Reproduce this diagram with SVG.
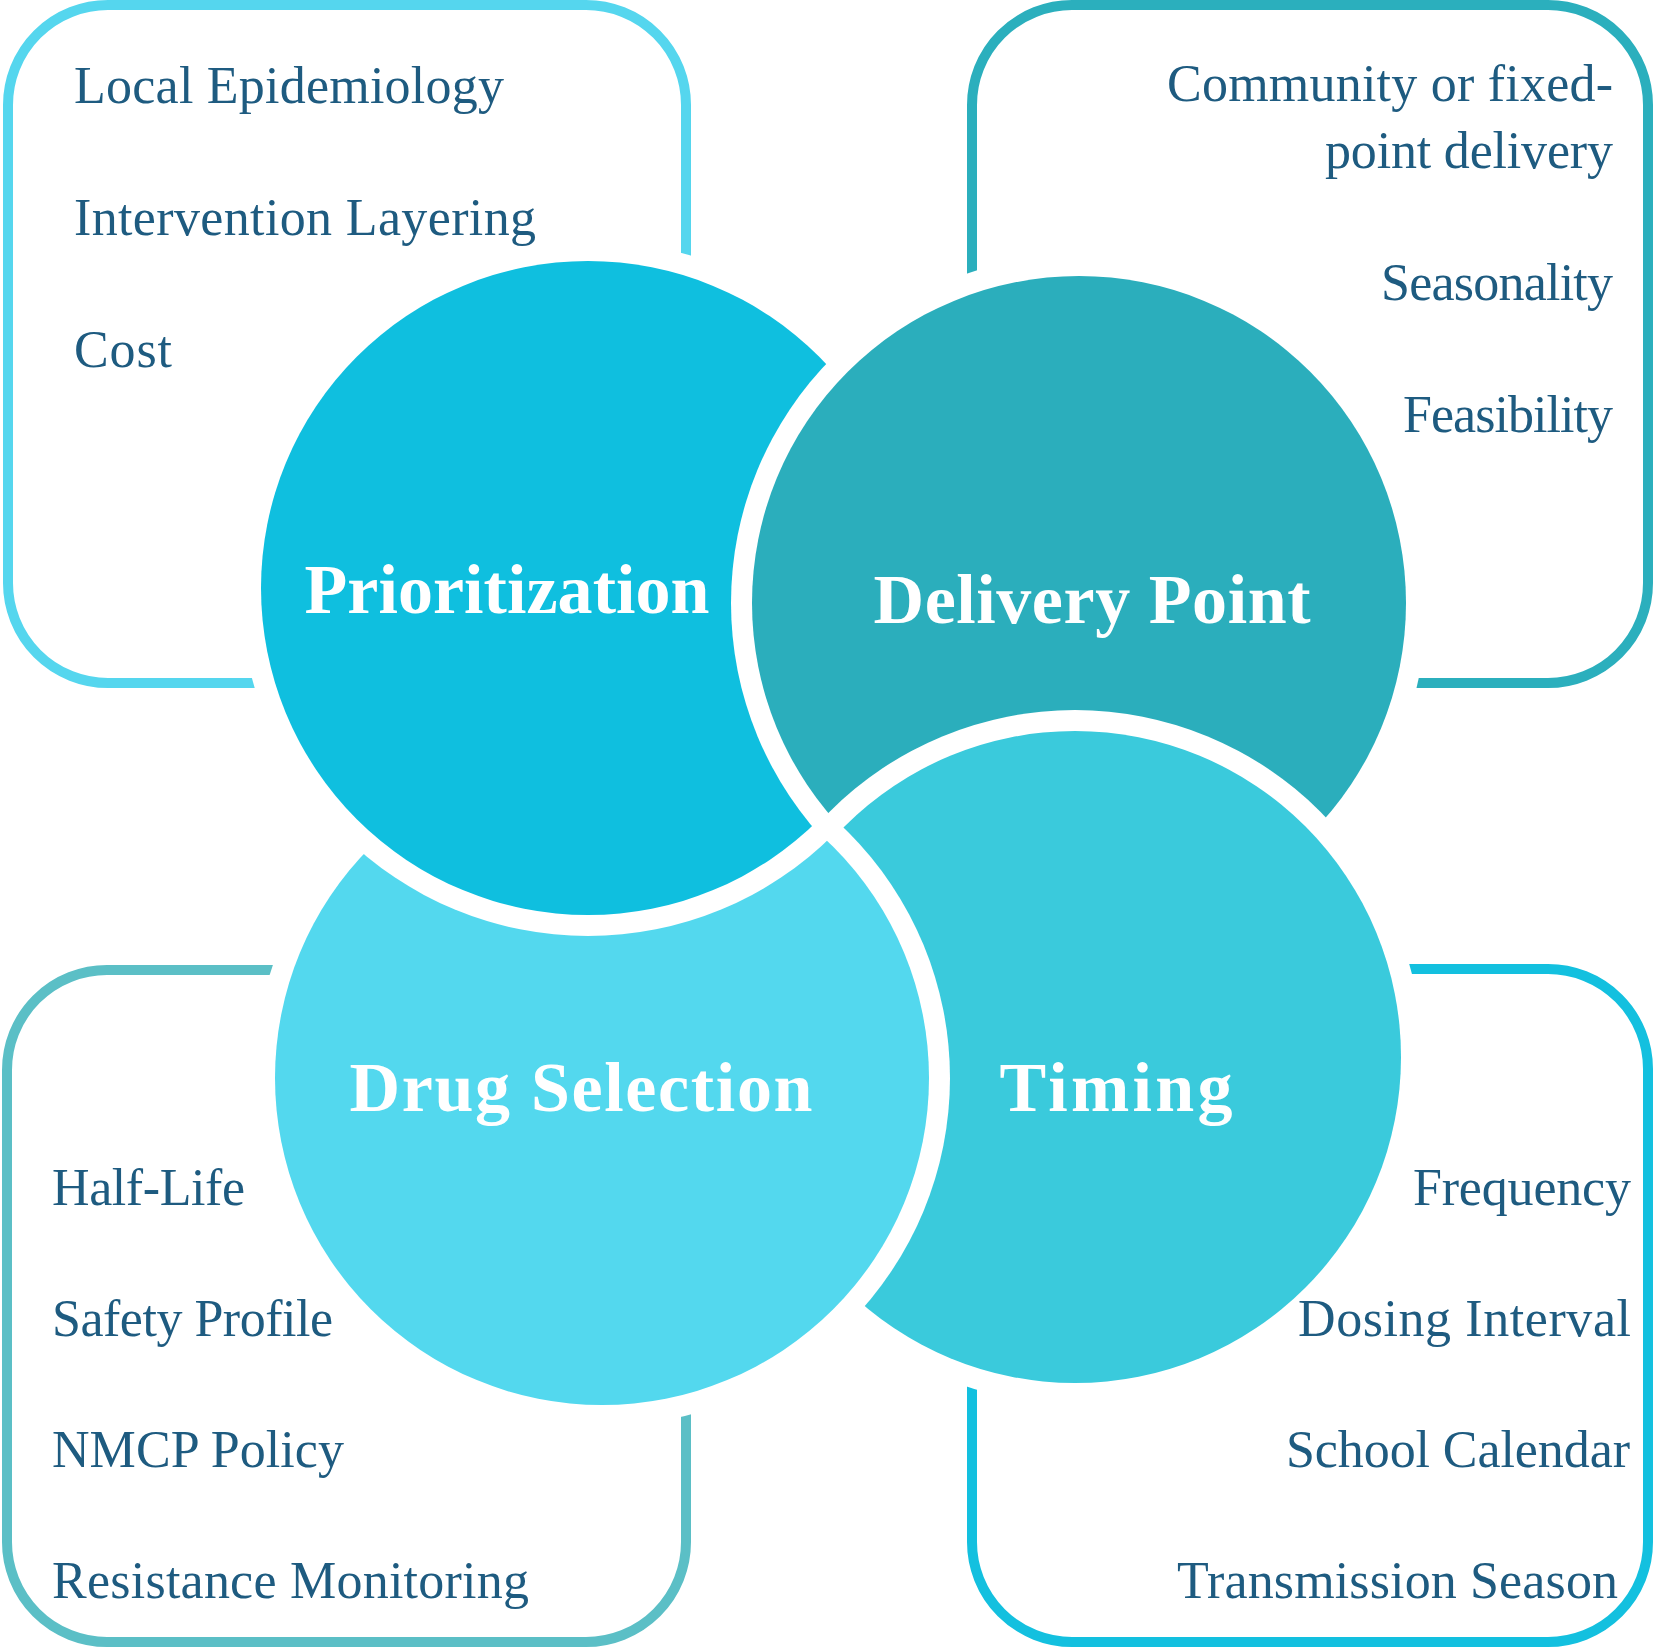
<svg xmlns="http://www.w3.org/2000/svg" width="1654" height="1650" viewBox="0 0 1654 1650">
<style>
.box{fill:none;stroke-width:10}
.lbl{font-family:"Liberation Serif","DejaVu Serif",serif;font-size:52px;fill:#1E5B80}
.ttl{font-family:"Liberation Serif","DejaVu Serif",serif;font-size:70px;font-weight:bold;fill:#ffffff;text-anchor:middle}
.halo{fill:#ffffff}
.end{text-anchor:end}
</style>
<defs>
<mask id="underP" maskUnits="userSpaceOnUse" x="0" y="0" width="1654" height="1650">
<rect x="0" y="0" width="1654" height="1650" fill="#ffffff"/>
<circle cx="588" cy="588" r="348" fill="#000000"/>
</mask>
</defs>
<rect width="1654" height="1650" fill="#ffffff"/>
<g id="box-prioritization">
<rect class="box" x="8" y="5" width="678" height="678" rx="100" ry="100" stroke="#55D6EE"/>
</g>
<g id="box-delivery">
<rect class="box" x="972" y="5" width="676" height="678" rx="100" ry="100" stroke="#2BAFBD"/>
</g>
<g id="box-drug">
<rect class="box" x="7" y="970" width="679" height="672" rx="100" ry="100" stroke="#5BBFC6"/>
</g>
<g id="box-timing">
<rect class="box" x="972" y="969" width="676" height="673" rx="100" ry="100" stroke="#13C0DF"/>
</g>
<g id="node-prioritization">
<circle class="halo" cx="588" cy="588" r="348"/>
<circle cx="588" cy="588" r="327" fill="#0FBFDF"/>
<text class="ttl" x="507" y="613" textLength="405">Prioritization</text>
</g>
<g id="node-delivery">
<circle class="halo" cx="1079" cy="603" r="348"/>
<circle cx="1079" cy="603" r="327" fill="#2BAEBC"/>
<text class="ttl" x="1092" y="623" textLength="437">Delivery Point</text>
</g>
<g id="node-timing">
<circle class="halo" cx="1075" cy="1057" r="347"/>
<circle cx="1075" cy="1057" r="326" fill="#3ACADC"/>
<text class="ttl" x="1116" y="1111" textLength="233">Timing</text>
</g>
<g id="node-drug" mask="url(#underP)">
<circle class="halo" cx="602" cy="1078" r="348"/>
<circle cx="602" cy="1078" r="327" fill="#53D8EE"/>
<text class="ttl" x="581" y="1111" textLength="463">Drug Selection</text>
</g>
<g id="labels-prioritization">
<text class="lbl" x="74" y="103" textLength="430">Local Epidemiology</text>
<text class="lbl" x="74" y="235" textLength="462">Intervention Layering</text>
<text class="lbl" x="74" y="367" textLength="98">Cost</text>
</g>
<g id="labels-delivery">
<text class="lbl end" x="1613" y="101" textLength="446">Community or fixed-</text>
<text class="lbl end" x="1613" y="168" textLength="288">point delivery</text>
<text class="lbl end" x="1613" y="300" textLength="232">Seasonality</text>
<text class="lbl end" x="1613" y="432" textLength="210">Feasibility</text>
</g>
<g id="labels-drug">
<text class="lbl" x="52" y="1205" textLength="193">Half-Life</text>
<text class="lbl" x="52" y="1336" textLength="281">Safety Profile</text>
<text class="lbl" x="52" y="1467" textLength="292">NMCP Policy</text>
<text class="lbl" x="52" y="1598" textLength="477">Resistance Monitoring</text>
</g>
<g id="labels-timing">
<text class="lbl end" x="1631" y="1205" textLength="218">Frequency</text>
<text class="lbl end" x="1631" y="1336" textLength="333">Dosing Interval</text>
<text class="lbl end" x="1630" y="1467" textLength="344">School Calendar</text>
<text class="lbl end" x="1618" y="1598" textLength="441">Transmission Season</text>
</g>
</svg>
